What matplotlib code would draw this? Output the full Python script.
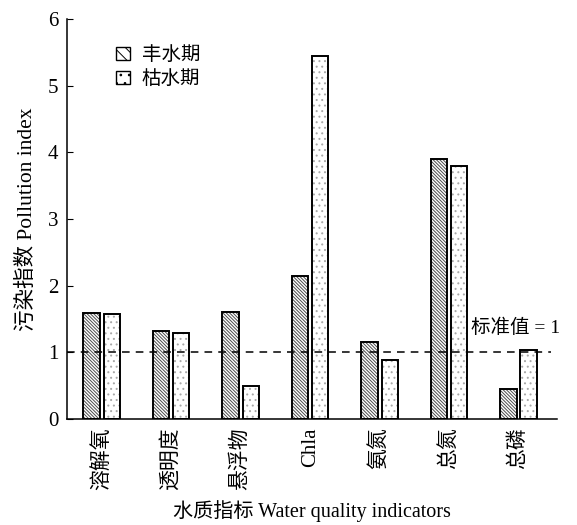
import numpy as np
import matplotlib
matplotlib.use("Agg")
import matplotlib.pyplot as plt
from matplotlib.patches import Patch

plt.rcParams['font.family'] = ['Liberation Serif', 'Noto Sans CJK SC', 'DejaVu Sans']
plt.rcParams['hatch.linewidth'] = 0.7

# données
indicateurs = ["溶解氧", "透明度", "悬浮物", "Chla", "氨氮", "总氮", "总磷"]
feng = [1.59, 1.32, 1.60, 2.14, 1.16, 3.90, 0.45]   # 丰水期
ku = [1.58, 1.29, 0.49, 5.44, 0.88, 3.79, 1.03]     # 枯水期
standard = 1.0
yticks = [0, 1, 2, 3, 4, 5, 6]

fig = plt.figure(figsize=(5.77, 5.25), dpi=100)
ax = fig.add_axes([0.116, 0.202, 0.849, 0.762])

x = np.arange(len(indicateurs))
w = 0.235
off = 0.145

# remplissage hachuré (gris) puis contour noir
ax.bar(x - off, feng, w, color="white", hatch="\\" * 10, edgecolor="#4d4d4d", linewidth=0, zorder=2)
ax.bar(x + off, ku, w, color="white", hatch="...", edgecolor="#a8a8a8", linewidth=0, zorder=2)
ax.bar(x - off, feng, w, fill=False, edgecolor="black", linewidth=1.4, zorder=3)
ax.bar(x + off, ku, w, fill=False, edgecolor="black", linewidth=1.4, zorder=3)

ax.plot([-0.5, 6.47], [standard, standard], linestyle=(0, (5, 4)), color="black", linewidth=1.1, zorder=4)
ax.text(5.32, 1.37, "标准值 = 1", fontsize=14, ha="left", va="center")

ax.set_xlim(-0.5, 6.55)
ax.set_ylim(0, 6)
ax.set_yticks(yticks)
ax.set_xticks(x)
ax.set_xticklabels(indicateurs, rotation=90, fontsize=15)
ax.tick_params(axis="x", length=0, pad=6)
ax.tick_params(axis="y", direction="in", length=4, labelsize=15, pad=6)

for s in ["top", "right"]:
    ax.spines[s].set_visible(False)
ax.spines["left"].set_linewidth(1.1)
ax.spines["bottom"].set_linewidth(1.1)

ax.set_ylabel("污染指数 Pollution index", fontsize=15.5, labelpad=8)
ax.set_xlabel("水质指标 Water quality indicators", fontsize=14.5, labelpad=7)

handles = [
    Patch(facecolor="white", edgecolor="black", hatch="\\\\\\", linewidth=1),
    Patch(facecolor="white", edgecolor="black", hatch="..", linewidth=1),
]
leg = ax.legend(handles, ["丰水期", "枯水期"], loc="upper left", bbox_to_anchor=(0.065, 0.98),
                frameon=False, fontsize=14, handlelength=0.7, handleheight=0.7,
                handletextpad=0.6, labelspacing=0.15)
for t in leg.get_texts():
    t.set_family(['Noto Sans CJK SC'])

fig.savefig("out.png", dpi=100)
